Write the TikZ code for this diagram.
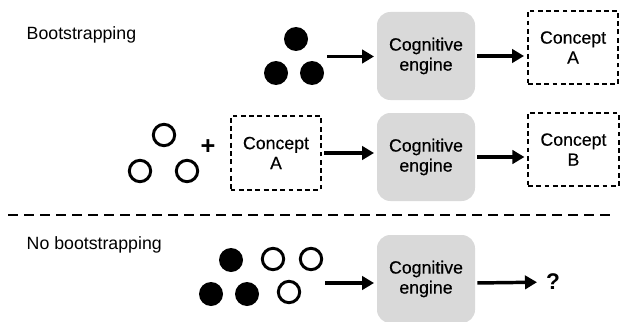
\documentclass[tikz,border=0pt]{standalone}
\usepackage{fontspec}
\setmainfont{Liberation Sans}
\newfontface\labelfont{Liberation Sans}[FakeBold=0.4]
\newfontface\markfont{Liberation Sans Bold}
\usetikzlibrary{positioning,arrows.meta}
\tikzstyle{edge} = [draw,line width=2.6pt,-{Triangle[length=9pt,width=10pt]},shorten >=2pt,shorten <=1.5pt]
\tikzstyle{engine} = [rectangle,rounded corners=10pt,fill=black!15,minimum width=73.5pt,minimum height=66pt,align=center]
\tikzstyle{concept} = [rectangle,draw,line width=1.5pt,dash pattern=on 3.6pt off 2.6pt,minimum width=68pt,minimum height=55pt,align=center]
\tikzstyle{full} = [circle,fill,inner sep=0pt,minimum size=18pt]
\tikzstyle{hollow} = [circle,draw,line width=2.2pt,inner sep=0pt,minimum size=16pt]
\tikzstyle{heading} = [anchor=base west,font=\rmfamily\fontsize{13.3pt}{15pt}\selectfont]

\begin{document}
\begin{tikzpicture}[x=0.75pt,y=-0.75pt,node distance=110pt,on grid,
    font=\labelfont\fontsize{13.3pt}{15pt}\selectfont]
   \useasboundingbox (0,0) rectangle (623,321);

   % bootstrapping, first step
   \node[heading] (boot) at (22,40) {Bootstrapping};
   \node[full] (f1) at (296,39) {};
   \node[full] (f2) at (276,73) {};
   \node[full] (f3) at (312,73) {};
   \coordinate (in1) at (325,56.5);
   \node[engine] (engine1) at (426,56) {Cognitive\\engine};
   \node[concept] (conceptA) [above right=6.4pt and 110.3pt of engine1] {Concept\\A};

   \path[edge] (in1) -- (in1 -| engine1.west);
   \path[edge] (engine1.east) -- (engine1.east -| conceptA.west);

   % bootstrapping, second step
   \node[hollow] (h1) at (164,135) {};
   \node[hollow] (h2) at (140,171) {};
   \node[hollow] (h3) at (187,171) {};
   \node (plus) at (208,147) {\markfont\fontsize{19pt}{19pt}\selectfont +};
   \node[engine] (engine2) at (426,157) {Cognitive\\engine};
   \node[concept] (conceptA2) [above left=3pt and 112.5pt of engine2] {Concept\\A};
   \node[concept] (conceptB) [above right=5.6pt and 110.6pt of engine2] {Concept\\B};

   \path[edge] (conceptA2.east) -- (conceptA2.east -| engine2.west);
   \path[edge] (engine2.east) -- (engine2.east -| conceptB.west);

   \draw[line width=2.2pt,dash pattern=on 7.5pt off 4.5pt] (8,215) -- (615,215);

   % no bootstrapping
   \node[heading] (noboot) at (22,249) {No bootstrapping};
   \node[full] (m1) at (231,260) {};
   \node[hollow] (m2) at (273,259) {};
   \node[hollow] (m3) at (311,259) {};
   \node[full] (m4) at (211,294) {};
   \node[full] (m5) at (247,294) {};
   \node[hollow] (m6) at (289,292) {};
   \coordinate (in3) at (323,283);
   \node[engine] (engine3) at (426,279) {Cognitive\\engine};
   \node (q) at (553,282) {\markfont\fontsize{17pt}{17pt}\selectfont ?};

   \path[edge] (in3) -- (in3 -| engine3.west);
   \path[edge,shorten >=12pt] (in3 -| engine3.east) -- (q.center);

\end{tikzpicture}
\end{document}
